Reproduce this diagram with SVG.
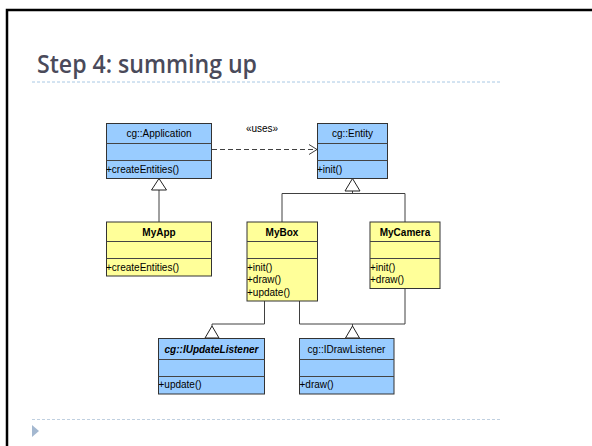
<svg xmlns="http://www.w3.org/2000/svg" width="592" height="446" viewBox="0 0 592 446">
<defs>
<style>
.blue{fill:#99ccff;stroke:#333;stroke-width:1}
.yel{fill:#ffff99;stroke:#333;stroke-width:1}
.div{stroke:#444;stroke-width:1}
.t{font-family:"Liberation Sans",Arial,sans-serif;font-size:10px;fill:#000}
.c{text-anchor:middle}
.b{font-weight:bold}
.conn{fill:none;stroke:#404040;stroke-width:1}
.tri{fill:#fff;stroke:#222;stroke-width:1}
</style>
<marker id="open" markerWidth="10" markerHeight="12" refX="9" refY="6" orient="auto" markerUnits="userSpaceOnUse">
<path d="M1,1 L9,6 L1,11" fill="none" stroke="#404040" stroke-width="1"/>
</marker>
</defs>
<rect x="0" y="0" width="592" height="446" fill="#fff"/>
<path d="M7,446 V10 H592" fill="none" stroke="#000" stroke-width="2.5"/>
<text x="37" y="72.5" font-family="'Open Sans','Liberation Sans',sans-serif" font-weight="600" font-size="26" fill="#4a4a5a" textLength="220" lengthAdjust="spacingAndGlyphs">Step 4: summing up</text>
<line x1="32" y1="82" x2="502" y2="82" stroke="#a8c8e4" stroke-width="1" stroke-dasharray="3,2"/>
<line x1="32" y1="419.5" x2="502" y2="419.5" stroke="#c0d0e0" stroke-width="1" stroke-dasharray="3,2"/>
<polygon points="32,425 39,431 32,437" fill="#a4b8d0"/>

<g id="connectors">
<line class="conn" x1="212" y1="149.5" x2="317" y2="149.5" stroke-dasharray="5,3" marker-end="url(#open)"/>
<text class="t c" x="262" y="132" font-size="9">«uses»</text>
<line class="conn" x1="159" y1="190" x2="159" y2="222"/>
<polygon class="tri" points="159,178.5 166.5,190 151.5,190"/>
<path class="conn" d="M282,222 V193.5 H405 V222 M352.5,193.5 V191"/>
<polygon class="tri" points="352.5,178.5 360,191 345,191"/>
<path class="conn" d="M264.5,301 V324 H212 V326"/>
<polygon class="tri" points="212,326 219,338 205,338"/>
<path class="conn" d="M299.5,301 V324 H405 V288 M352.5,324 V326"/>
<polygon class="tri" points="352.5,326 359.5,338 345.5,338"/>
</g>

<g id="Application">
<rect class="blue" x="106.5" y="123.5" width="105" height="55"/>
<line class="div" x1="106.5" y1="143.5" x2="211.5" y2="143.5"/>
<line class="div" x1="106.5" y1="160.5" x2="211.5" y2="160.5"/>
<text class="t c" x="159" y="137">cg::Application</text>
<text class="t" x="106" y="173">+createEntities()</text>
</g>

<g id="Entity">
<rect class="blue" x="317.5" y="123.5" width="70" height="55"/>
<line class="div" x1="317.5" y1="143.5" x2="387.5" y2="143.5"/>
<line class="div" x1="317.5" y1="160.5" x2="387.5" y2="160.5"/>
<text class="t c" x="352.5" y="137">cg::Entity</text>
<text class="t" x="317" y="173">+init()</text>
</g>

<g id="MyApp">
<rect class="yel" x="106.5" y="222" width="105" height="54"/>
<line class="div" x1="106.5" y1="241.5" x2="211.5" y2="241.5"/>
<line class="div" x1="106.5" y1="258.5" x2="211.5" y2="258.5"/>
<text class="t c b" x="159" y="235.5">MyApp</text>
<text class="t" x="106" y="270.5">+createEntities()</text>
</g>

<g id="MyBox">
<rect class="yel" x="247" y="222" width="70.5" height="79"/>
<line class="div" x1="247" y1="241.5" x2="317.5" y2="241.5"/>
<line class="div" x1="247" y1="258.5" x2="317.5" y2="258.5"/>
<text class="t c b" x="282" y="235.5">MyBox</text>
<text class="t" x="247" y="270.5">+init()</text>
<text class="t" x="247" y="283">+draw()</text>
<text class="t" x="247" y="295.5">+update()</text>
</g>

<g id="MyCamera">
<rect class="yel" x="370" y="222" width="70" height="66.5"/>
<line class="div" x1="370" y1="241.5" x2="440" y2="241.5"/>
<line class="div" x1="370" y1="258.5" x2="440" y2="258.5"/>
<text class="t c b" x="405" y="235.5">MyCamera</text>
<text class="t" x="370" y="270.5">+init()</text>
<text class="t" x="370" y="283">+draw()</text>
</g>

<g id="IUpdateListener">
<rect class="blue" x="158.5" y="338.5" width="106" height="55.5"/>
<line class="div" x1="158.5" y1="359.5" x2="264.5" y2="359.5"/>
<line class="div" x1="158.5" y1="376.5" x2="264.5" y2="376.5"/>
<text class="t c b" x="211.5" y="352.5" font-style="italic">cg::IUpdateListener</text>
<text class="t" x="158.5" y="387.5">+update()</text>
</g>

<g id="IDrawListener">
<rect class="blue" x="299.5" y="338.5" width="94.5" height="55.5"/>
<line class="div" x1="299.5" y1="359.5" x2="394" y2="359.5"/>
<line class="div" x1="299.5" y1="376.5" x2="394" y2="376.5"/>
<text class="t c" x="346.5" y="352.5">cg::IDrawListener</text>
<text class="t" x="299.5" y="387.5">+draw()</text>
</g>
</svg>
